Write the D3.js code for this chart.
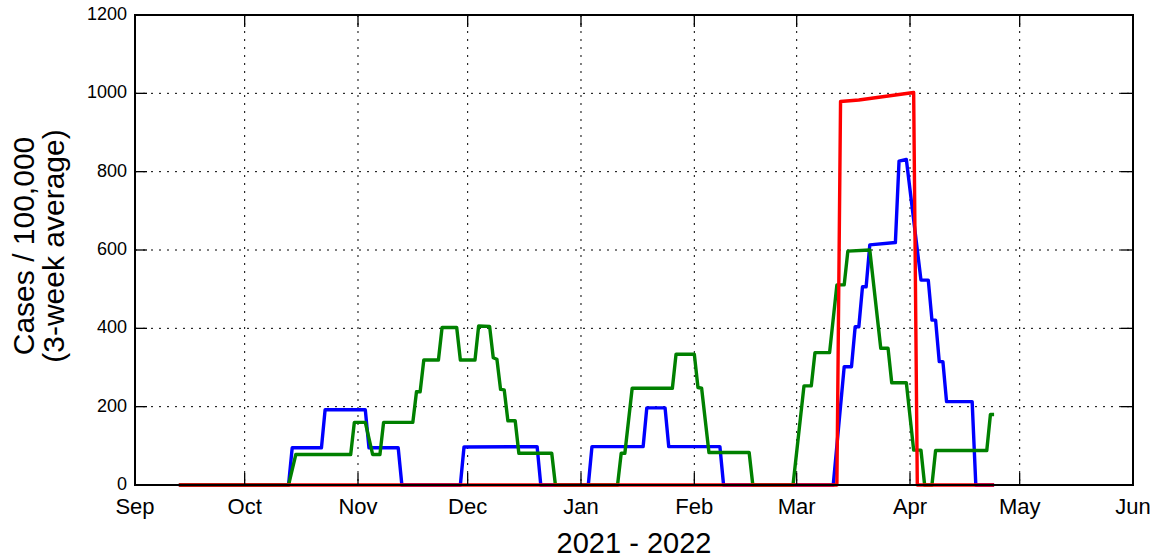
<!DOCTYPE html>
<html lang="en">
<head>
    <meta charset="UTF-8">
    <title>Cases per 100,000 (3-week average)</title>
    <script src="https://d3js.org/d3.v7.min.js"></script>
    <style>
        body, html { margin: 0; background: #fff; }
        svg { display: block; }
        text { font-family: 'Liberation Sans', Arial, sans-serif; fill: #000; }
    </style>
</head>
<body>
    <svg width="1153" height="558"></svg>
    <script>
        // vertices of each series: [date, cases per 100,000]
        const blueData = [
            ["2021-09-13", 0], ["2021-10-13", 0], ["2021-10-14", 95], ["2021-10-22", 95],
            ["2021-10-23", 192], ["2021-11-03", 192], ["2021-11-04", 95], ["2021-11-12", 95],
            ["2021-11-13", 0], ["2021-11-29", 0], ["2021-11-30", 97], ["2021-12-20", 98],
            ["2021-12-21", 0], ["2022-01-03", 0], ["2022-01-04", 98], ["2022-01-18", 98],
            ["2022-01-19", 197], ["2022-01-24", 197], ["2022-01-25", 98], ["2022-02-08", 98],
            ["2022-02-09", 0], ["2022-03-11", 0], ["2022-03-14", 302], ["2022-03-16", 302],
            ["2022-03-17", 404], ["2022-03-18", 404], ["2022-03-19", 506], ["2022-03-20", 506],
            ["2022-03-21", 613], ["2022-03-28", 619], ["2022-03-29", 827], ["2022-03-31", 831],
            ["2022-04-04", 523], ["2022-04-06", 523], ["2022-04-07", 421], ["2022-04-08", 421],
            ["2022-04-09", 315], ["2022-04-10", 315], ["2022-04-11", 213], ["2022-04-18", 213],
            ["2022-04-19", 0], ["2022-04-24", 0]
        ];
        const greenData = [
            ["2021-09-13", 0], ["2021-10-13", 0], ["2021-10-15", 78], ["2021-10-30", 78],
            ["2021-10-31", 160], ["2021-11-03", 160], ["2021-11-05", 78], ["2021-11-07", 78],
            ["2021-11-08", 160], ["2021-11-16", 160], ["2021-11-17", 238], ["2021-11-18", 238],
            ["2021-11-19", 319], ["2021-11-23", 319], ["2021-11-24", 402], ["2021-11-28", 402],
            ["2021-11-29", 319], ["2021-12-03", 319], ["2021-12-04", 406], ["2021-12-07", 405],
            ["2021-12-08", 325], ["2021-12-09", 321], ["2021-12-10", 244], ["2021-12-11", 243],
            ["2021-12-12", 164], ["2021-12-14", 164], ["2021-12-15", 81], ["2021-12-24", 81],
            ["2021-12-25", 0], ["2022-01-11", 0], ["2022-01-12", 81], ["2022-01-13", 81],
            ["2022-01-15", 247], ["2022-01-26", 247], ["2022-01-27", 334], ["2022-02-01", 334],
            ["2022-02-02", 249], ["2022-02-03", 247], ["2022-02-05", 83], ["2022-02-16", 83],
            ["2022-02-17", 0], ["2022-02-28", 0], ["2022-03-03", 253], ["2022-03-05", 253],
            ["2022-03-06", 338], ["2022-03-10", 338], ["2022-03-12", 511], ["2022-03-14", 511],
            ["2022-03-15", 597], ["2022-03-21", 600], ["2022-03-24", 349], ["2022-03-26", 349],
            ["2022-03-27", 261], ["2022-03-31", 261], ["2022-04-02", 89], ["2022-04-04", 89],
            ["2022-04-05", 0], ["2022-04-07", 0], ["2022-04-08", 88], ["2022-04-22", 88],
            ["2022-04-23", 180], ["2022-04-24", 180]
        ];
        const redData = [
            ["2021-09-13", 0], ["2022-03-12", 0], ["2022-03-13", 979], ["2022-03-18", 983],
            ["2022-04-02", 1002], ["2022-04-03", 0], ["2022-04-24", 0]
        ];
        const series = [
            { name: "blue", color: "#0000ff", values: blueData },
            { name: "green", color: "#008000", values: greenData },
            { name: "red", color: "#ff0000", values: redData }
        ];
        const yTicks = [0, 200, 400, 600, 800, 1000, 1200];
        const xLabel = "2021 - 2022";
        const yLabel = ["Cases / 100,000", "(3-week average)"];

        const svg = d3.select("svg");
        const mLeft = 135, mRight = 1133, mTop = 15, mBottom = 485;
        const parse = d3.timeParse("%Y-%m-%d");

        const x = d3.scaleTime()
            .domain([parse("2021-09-01"), parse("2022-06-01")])
            .range([mLeft, mRight]);
        const y = d3.scaleLinear()
            .domain([0, 1200])
            .range([mBottom, mTop]);
        const months = x.ticks(d3.timeMonth.every(1));

        // dotted grid
        const grid = svg.append("g")
            .attr("stroke", "#000")
            .attr("stroke-width", 1)
            .attr("stroke-dasharray", "2,6");
        grid.selectAll("line.gx")
            .data(months)
            .enter().append("line")
            .attr("x1", d => x(d)).attr("x2", d => x(d))
            .attr("y1", mTop).attr("y2", mBottom);
        grid.selectAll("line.gy")
            .data(yTicks)
            .enter().append("line")
            .attr("x1", mLeft).attr("x2", mRight)
            .attr("y1", d => y(d)).attr("y2", d => y(d));

        const line = d3.line()
            .x(d => x(parse(d[0])))
            .y(d => y(d[1]));

        svg.selectAll("path.series")
            .data(series)
            .enter().append("path")
            .attr("class", "series")
            .attr("d", d => line(d.values))
            .attr("fill", "none")
            .attr("stroke", d => d.color)
            .attr("stroke-width", 3.4)
            .attr("stroke-linejoin", "round");

        // inward ticks on all four sides
        const tickLen = 12;
        const ticks = svg.append("g").attr("stroke", "#000").attr("stroke-width", 1.3);
        months.forEach(m => {
            ticks.append("line").attr("x1", x(m)).attr("x2", x(m)).attr("y1", mBottom).attr("y2", mBottom - tickLen);
            ticks.append("line").attr("x1", x(m)).attr("x2", x(m)).attr("y1", mTop).attr("y2", mTop + tickLen);
        });
        yTicks.forEach(v => {
            ticks.append("line").attr("x1", mLeft).attr("x2", mLeft + tickLen).attr("y1", y(v)).attr("y2", y(v));
            ticks.append("line").attr("x1", mRight).attr("x2", mRight - tickLen).attr("y1", y(v)).attr("y2", y(v));
        });

        svg.append("rect")
            .attr("x", mLeft).attr("y", mTop)
            .attr("width", mRight - mLeft).attr("height", mBottom - mTop)
            .attr("fill", "none")
            .attr("stroke", "#000")
            .attr("stroke-width", 2);

        // tick labels
        svg.selectAll("text.xt")
            .data(months)
            .enter().append("text")
            .attr("x", d => x(d))
            .attr("y", mBottom + 29)
            .attr("text-anchor", "middle")
            .attr("font-size", 22)
            .text(d3.timeFormat("%b"));
        svg.selectAll("text.yt")
            .data(yTicks)
            .enter().append("text")
            .attr("x", mLeft - 8)
            .attr("y", d => y(d) + 5)
            .attr("text-anchor", "end")
            .attr("font-size", 18)
            .text(d => d);

        svg.append("text")
            .attr("x", (mLeft + mRight) / 2)
            .attr("y", 553)
            .attr("text-anchor", "middle")
            .attr("font-size", 29)
            .text(xLabel);

        svg.append("text")
            .attr("transform", `translate(0, 246) rotate(-90)`)
            .attr("text-anchor", "middle")
            .attr("font-size", 30)
            .selectAll("tspan")
            .data(yLabel)
            .enter().append("tspan")
            .attr("x", 0)
            .attr("y", (d, i) => 34 + i * 30)
            .text(d => d);
    </script>
</body>
</html>
